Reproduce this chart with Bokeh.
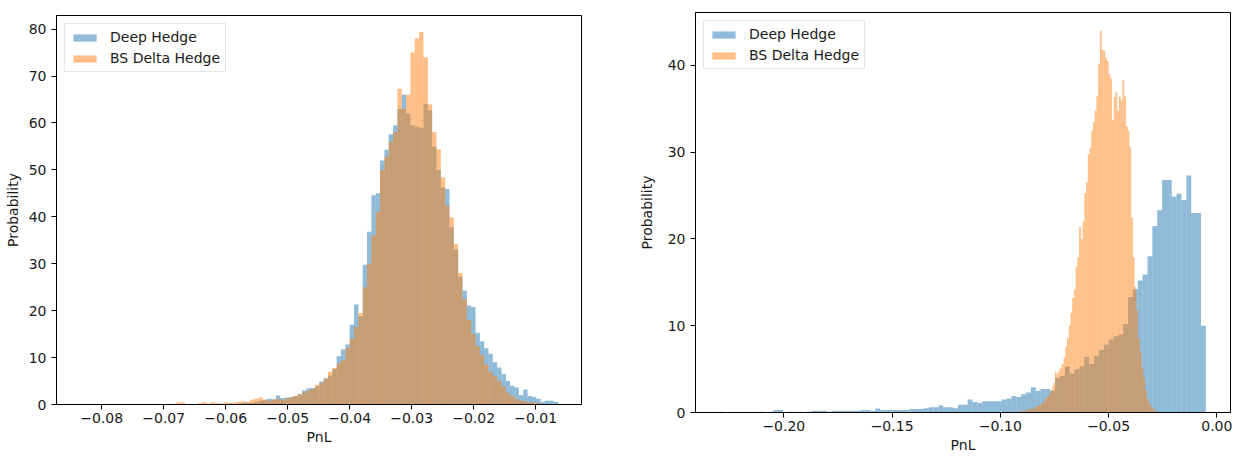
import numpy as np
from bokeh.plotting import figure
from bokeh.layouts import row, column
from bokeh.models import (Legend, LegendItem, FixedTicker, CustomJSTickFormatter,
                          Range1d)
from bokeh.embed import file_html
from bokeh.resources import INLINE

# ---------------- data ----------------
series_names = ["Deep Hedge", "BS Delta Hedge"]
x_label = "PnL"
y_label = "Probability"

# left panel: histogram densities, common bins
left_bin_start = -0.0680
left_bin_width = 0.0007
left_deep = [
    0, 0, 0, 0, 0.1, 0, 0, 0, 0.1, 0,
    0.1, 0, 0.2, 0, 0.2, 0.3, 0.5, 0.3, 0.6, 0.8,
    1.0, 1.2, 1.1, 1.9, 1.4, 1.5, 1.6, 1.8, 2.2, 3.0,
    3.4, 3.5, 3.9, 4.9, 5.6, 6.2, 7.5, 10.3, 11.7, 12.8,
    17.0, 21.3, 18.8, 29.8, 36.8, 44.6, 45.0, 52.0, 54.3, 57.6,
    59.5, 63.0, 66.0, 62.0, 59.5, 59.2, 59.0, 64.1, 62.7, 55.0,
    50.0, 46.3, 45.9, 37.8, 33.0, 27.2, 24.3, 21.1, 20.8, 15.3,
    13.5, 12.0, 10.8, 9.0, 7.9, 6.5, 5.0, 4.0, 3.6, 2.0,
    3.2, 1.8, 1.6, 1.2, 0.6, 0.8, 0.8, 0.6,
]
left_bs = [
    0.4, 0.5, 0, 0, 0.1, 0.3, 0.5, 0.2, 0.5, 0.3,
    0.2, 0.5, 0.3, 0.4, 0.6, 0.7, 0.5, 1.0, 1.2, 1.5,
    1.0, 0.8, 1.0, 1.2, 1.0, 1.3, 1.5, 1.8, 2.2, 2.5,
    3.0, 3.4, 4.2, 4.6, 5.5, 7.0, 7.8, 8.8, 9.5, 12.0,
    14.0, 16.5, 19.5, 25.0, 30.0, 36.0, 41.0, 50.0, 52.8, 56.0,
    58.0, 67.3, 63.0, 66.0, 75.0, 78.0, 79.4, 74.0, 64.0, 58.0,
    54.4, 48.4, 42.4, 39.9, 34.2, 28.0, 22.5, 18.0, 15.0, 12.4,
    10.5, 8.5, 7.0, 6.0, 5.0, 3.9, 2.5, 1.8, 1.2, 0.8,
    0.7, 0.5, 0.5, 0.3, 0.1, 0, 0, 0,
]

# right panel: each series has its own bins
right_deep_start = -0.2296
right_deep_width = 0.002245
right_deep = [
    0.1, 0, 0, 0, 0, 0, 0, 0, 0.1, 0,
    0.1, 0.3, 0.3, 0, 0.1, 0, 0.1, 0, 0.1, 0.2,
    0.2, 0.2, 0.1, 0.2, 0.2, 0.2, 0.2, 0.2, 0.2, 0.3,
    0.3, 0.2, 0.45, 0.3, 0.3, 0.3, 0.3, 0.3, 0.3, 0.4,
    0.4, 0.4, 0.5, 0.6, 0.6, 0.8, 0.6, 0.6, 0.5, 0.9,
    0.9, 1.5, 1.2, 1.1, 1.3, 1.3, 1.3, 1.3, 1.5, 1.6,
    1.9, 1.8, 2.1, 2.3, 2.9, 2.5, 2.7, 2.7, 2.5, 4.0,
    4.2, 5.3, 4.5, 5.0, 5.3, 6.4, 5.6, 6.5, 7.2, 7.8,
    8.4, 8.8, 9.0, 10.2, 13.3, 14.2, 15.2, 15.9, 18.0, 21.5,
    23.3, 26.8, 26.8, 24.9, 25.2, 24.5, 27.3, 23.0, 23.0, 10.0,
]
right_bs_start = -0.0980
right_bs_width = 0.0008
right_bs = [
    0, 0, 0.1, 0, 0, 0.1, 0, 0.1, 0, 0.2,
    0.2, 0.1, 0.3, 0.4, 0.3, 0.5, 0.4, 0.6, 0.8, 0.7,
    0.9, 1.0, 1.2, 1.5, 1.8, 2.0, 2.4, 2.8, 3.4, 4.6,
    4.4, 4.8, 5.2, 5.6, 6.3, 7.6, 8.6, 10.0, 11.5, 13.2,
    14.2, 16.8, 17.9, 21.4, 20.0, 22.0, 25.3, 26.5, 29.8, 30.5,
    32.5, 33.5, 34.8, 36.5, 40.2, 44.0, 41.8, 41.7, 40.9, 40.5,
    39.0, 38.5, 33.7, 36.4, 37.0, 34.8, 36.4, 36.0, 38.3, 36.5,
    33.0, 32.5, 30.6, 22.5, 17.9, 14.5, 11.8, 8.5, 7.0, 5.2,
    4.0, 2.6, 1.6, 1.1, 0.7, 0.5, 0.3, 0.2, 0.1, 0.1,
]

left_xticks = [-0.08, -0.07, -0.06, -0.05, -0.04, -0.03, -0.02, -0.01]
left_xlabels = ["\u22120.08", "\u22120.07", "\u22120.06", "\u22120.05",
                "\u22120.04", "\u22120.03", "\u22120.02", "\u22120.01"]
left_yticks = [0, 10, 20, 30, 40, 50, 60, 70, 80]
right_xticks = [-0.20, -0.15, -0.10, -0.05, 0.00]
right_xlabels = ["\u22120.20", "\u22120.15", "\u22120.10", "\u22120.05", "0.00"]
right_yticks = [0, 10, 20, 30, 40]

# ---------------- styling ----------------
BLUE = "#1f77b4"
ORANGE = "#ff7f0e"
FONT = "DejaVu Sans"
FS = "14px"
TXT = "#1a1a1a"


def edges(start, width, vals):
    return np.round(start + width * np.arange(len(vals) + 1), 7)


def make_panel(deep_e, deep_v, bs_e, bs_v, xr, yr, xticks, xlabels, yticks,
               width, height, bl, br, bt, bb, ylab_standoff):
    p = figure(width=width, height=height, output_backend="svg",
               toolbar_location=None, x_range=Range1d(*xr), y_range=Range1d(*yr),
               min_border_left=bl, min_border_right=br, min_border_top=bt,
               min_border_bottom=bb)
    p.background_fill_color = "white"
    p.border_fill_color = "white"
    p.outline_line_color = "black"
    p.outline_line_width = 1
    p.xgrid.visible = False
    p.ygrid.visible = False

    r1 = p.quad(left=deep_e[:-1], right=deep_e[1:], top=deep_v, bottom=0,
                fill_color=BLUE, fill_alpha=0.5, line_color=None)
    r2 = p.quad(left=bs_e[:-1], right=bs_e[1:], top=bs_v, bottom=0,
                fill_color=ORANGE, fill_alpha=0.5, line_color=None)

    p.xaxis.ticker = FixedTicker(ticks=xticks, minor_ticks=[])
    p.xaxis.formatter = CustomJSTickFormatter(
        args=dict(vals=xticks, labs=xlabels),
        code="""
        let best = 0, d = Infinity;
        for (let i = 0; i < vals.length; i++) {
            const e = Math.abs(vals[i] - tick);
            if (e < d) { d = e; best = i; }
        }
        return labs[best];
        """)
    p.yaxis.ticker = FixedTicker(ticks=yticks, minor_ticks=[])

    for ax in (p.xaxis[0], p.yaxis[0]):
        ax.axis_line_color = "black"
        ax.major_tick_line_color = "black"
        ax.major_tick_out = 5
        ax.major_tick_in = 0
        ax.minor_tick_out = 0
        ax.minor_tick_in = 0
        ax.major_label_text_font = FONT
        ax.major_label_text_font_size = FS
        ax.major_label_text_color = TXT
        ax.axis_label_text_font = FONT
        ax.axis_label_text_font_size = FS
        ax.axis_label_text_font_style = "normal"
        ax.axis_label_text_color = TXT
    p.xaxis.major_label_standoff = 3
    p.xaxis.axis_label_standoff = 3
    p.yaxis.major_label_standoff = 5
    p.yaxis.axis_label_standoff = ylab_standoff
    p.xaxis.axis_label = x_label
    p.yaxis.axis_label = y_label

    legend = Legend(items=[LegendItem(label=series_names[0], renderers=[r1]),
                           LegendItem(label=series_names[1], renderers=[r2])],
                    location="top_left")
    legend.label_text_font = FONT
    legend.label_text_font_size = FS
    legend.label_text_color = TXT
    legend.glyph_width = 29
    legend.glyph_height = 9
    legend.label_standoff = 11
    legend.spacing = 5
    legend.padding = 5
    legend.margin = 8
    legend.border_line_color = "#cccccc"
    legend.border_line_width = 1
    legend.background_fill_color = "white"
    legend.background_fill_alpha = 0.8
    p.add_layout(legend)
    return p


left_deep_e = edges(left_bin_start, left_bin_width, left_deep)
left_bs_e = edges(left_bin_start, left_bin_width, left_bs)
right_deep_e = edges(right_deep_start, right_deep_width, right_deep)
right_bs_e = edges(right_bs_start, right_bs_width, right_bs)

p1 = make_panel(left_deep_e, left_deep, left_bs_e, left_bs,
                (-0.0873, -0.0026), (0, 82.9), left_xticks, left_xlabels,
                left_yticks, width=610, height=457, bl=56, br=29, bt=15, bb=53,
                ylab_standoff=5)
p2 = make_panel(right_deep_e, right_deep, right_bs_e, right_bs,
                (-0.2408, 0.0063), (0, 46.1), right_xticks, right_xlabels,
                right_yticks, width=625, height=457, bl=85, br=5, bt=12, bb=45,
                ylab_standoff=10)

# wrap each panel separately so that their frames are not aligned to each other
layout = row(column(p1), column(p2))
open("out.html", "w").write(file_html(layout, INLINE))
